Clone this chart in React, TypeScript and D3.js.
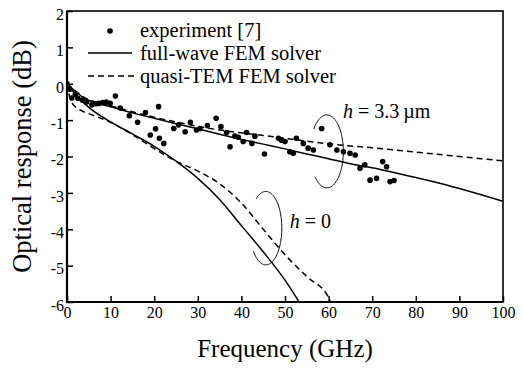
import React, { useEffect, useRef } from 'react';
import * as d3 from 'd3';

// experiment [7] : [GHz, dB]
const experiment: [number, number][] = [
  [0, 0], [0.6, -0.15], [1.1, -0.39], [1.9, -0.3], [2.5, -0.4], [3.5, -0.45],
  [4.5, -0.5], [5.7, -0.58], [6.5, -0.55], [7.3, -0.54], [8.2, -0.52], [9.0, -0.5],
  [9.9, -0.54], [11.1, -0.34], [12.2, -0.67], [14.3, -0.88], [16.2, -1.06], [18.0, -0.79],
  [19.1, -1.41], [20.3, -1.24], [21.0, -0.63], [21.2, -1.5], [22.2, -1.64], [24.5, -1.23],
  [25.6, -1.13], [27.1, -1.32], [28.3, -1.06], [29.7, -1.27], [30.5, -1.23], [32.2, -1.15],
  [34.2, -0.95], [35.3, -1.18], [36.6, -1.34], [37.4, -1.73], [38.5, -1.44], [39.3, -1.47],
  [40.4, -1.59], [41.2, -1.34], [42.4, -1.64], [43.1, -1.44], [45.3, -1.93], [48.5, -1.5],
  [49.2, -1.55], [50.0, -1.59], [51.1, -1.87], [51.9, -1.91], [52.6, -1.5], [54.2, -1.64],
  [55.3, -1.77], [56.5, -1.82], [58.4, -1.23], [60.3, -1.68], [61.9, -1.82], [63.4, -1.87],
  [64.9, -1.91], [66.1, -1.96], [67.2, -2.32], [68.3, -2.23], [69.5, -2.65], [71.0, -2.6],
  [72.4, -2.14], [73.3, -2.28], [74.1, -2.69], [75.0, -2.66],
];

// full-wave FEM, h = 3.3 um
const fullWaveH33: [number, number][] = [
  [0, 0], [2, -0.22], [4, -0.4], [6, -0.5], [8, -0.57], [10, -0.63], [15, -0.8],
  [20, -0.95], [25, -1.1], [30, -1.24], [35, -1.39], [40, -1.53], [45, -1.66],
  [50, -1.79], [55, -1.93], [60, -2.06], [65, -2.2], [70, -2.31], [75, -2.44],
  [80, -2.58], [85, -2.72], [90, -2.88], [95, -3.05], [100, -3.23],
];

// quasi-TEM FEM, h = 3.3 um
const quasiTemH33: [number, number][] = [
  [0, 0], [2, -0.2], [4, -0.38], [6, -0.48], [8, -0.55], [10, -0.61], [15, -0.77],
  [20, -0.92], [25, -1.05], [30, -1.17], [35, -1.27], [40, -1.35], [45, -1.42],
  [50, -1.5], [55, -1.58], [60, -1.65], [65, -1.71], [70, -1.76], [75, -1.82],
  [80, -1.88], [85, -1.94], [90, -2.0], [95, -2.06], [100, -2.12],
];

// full-wave FEM, h = 0
const fullWaveH0: [number, number][] = [
  [0, 0], [2, -0.3], [5, -0.65], [10, -1.05], [15, -1.38], [20, -1.72], [25, -2.13],
  [30, -2.6], [35, -3.18], [40, -3.9], [45, -4.62], [50, -5.4], [53.5, -6.05],
];

// quasi-TEM FEM, h = 0
const quasiTemH0: [number, number][] = [
  [0, 0], [1, -0.5], [3, -0.72], [5, -0.82], [10, -1.06], [15, -1.4], [20, -1.78],
  [25, -2.13], [30, -2.4], [35, -2.75], [40, -3.28], [45, -4.0], [50, -4.7],
  [55, -5.3], [60, -5.88], [60.6, -6.05],
];

const xTicks = [0, 10, 20, 30, 40, 50, 60, 70, 80, 90, 100];
const yTicks = [2, 1, 0, -1, -2, -3, -4, -5, -6];

const legendLabels = ['experiment [7]', 'full-wave FEM solver', 'quasi-TEM FEM solver'];

const W = 523;
const H = 369;
const margin = { top: 11, right: 20, bottom: 67, left: 67 };
const serif = "'Liberation Serif', 'Times New Roman', Times, 'DejaVu Serif', serif";

const App = () => {
  const svgRef = useRef<SVGSVGElement>(null);

  useEffect(() => {
    const svg = d3.select(svgRef.current);
    svg.selectAll('*').remove();

    const x = d3.scaleLinear().domain([0, 100]).range([margin.left, W - margin.right]);
    const y = d3.scaleLinear().domain([-6, 2]).range([H - margin.bottom, margin.top]);

    svg.append('defs').append('clipPath').attr('id', 'plot')
      .append('rect')
      .attr('x', x(0)).attr('y', y(2))
      .attr('width', x(100) - x(0)).attr('height', y(-6) - y(2));

    // axes
    const xAxis = svg.append('g')
      .attr('transform', `translate(0,${y(-6)})`)
      .call(d3.axisBottom(x).tickValues(xTicks).tickSize(-6).tickSizeOuter(0).tickPadding(5)
        .tickFormat((d) => String(d)));
    const yAxis = svg.append('g')
      .attr('transform', `translate(${x(0)},0)`)
      .call(d3.axisLeft(y).tickValues(yTicks).tickSize(-6).tickSizeOuter(0).tickPadding(3)
        .tickFormat((d) => String(d)));
    [xAxis, yAxis].forEach((g) => {
      g.attr('font-family', null).attr('font-size', null);
      g.select('.domain').remove();
      g.selectAll('line').attr('stroke', '#000').attr('stroke-width', 1.5);
      g.selectAll('text').style('font-family', serif).style('font-size', '16px').attr('fill', '#000');
    });
    yAxis.selectAll('text').attr('dy', '0.52em');

    // frame
    svg.append('rect')
      .attr('x', x(0)).attr('y', y(2))
      .attr('width', x(100) - x(0)).attr('height', y(-6) - y(2))
      .attr('fill', 'none').attr('stroke', '#000').attr('stroke-width', 1.6);
    svg.append('path')
      .attr('d', `M${x(0)},${y(2)}V${y(-6)}H${x(100)}`)
      .attr('fill', 'none').attr('stroke', '#000').attr('stroke-width', 2.2);

    // axis titles
    svg.append('text')
      .attr('x', (x(0) + x(100)) / 2).attr('y', 357)
      .attr('text-anchor', 'middle')
      .style('font-family', serif).style('font-size', '25px')
      .text('Frequency (GHz)');
    svg.append('text')
      .attr('transform', `translate(31,${(y(2) + y(-6)) / 2}) rotate(-90)`)
      .attr('text-anchor', 'middle')
      .style('font-family', serif).style('font-size', '26.5px')
      .text('Optical response (dB)');

    // curves
    const line = d3.line<[number, number]>()
      .x((d) => x(d[0])).y((d) => y(d[1]))
      .curve(d3.curveMonotoneX);
    const plot = svg.append('g').attr('clip-path', 'url(#plot)');
    const curves: { data: [number, number][]; dash: string | null }[] = [
      { data: fullWaveH33, dash: null },
      { data: quasiTemH33, dash: '6,4' },
      { data: fullWaveH0, dash: null },
      { data: quasiTemH0, dash: '6,4' },
    ];
    curves.forEach((c) => {
      plot.append('path')
        .datum(c.data)
        .attr('d', line)
        .attr('fill', 'none')
        .attr('stroke', '#000')
        .attr('stroke-width', 1.5)
        .attr('stroke-dasharray', c.dash);
    });

    plot.selectAll('circle.exp')
      .data(experiment)
      .enter()
      .append('circle')
      .attr('class', 'exp')
      .attr('cx', (d) => x(d[0]))
      .attr('cy', (d) => y(d[1]))
      .attr('r', 2.8)
      .attr('fill', '#000');

    // annotation ellipses (open on the left)
    const arc = (cf: number, cdb: number, rx: number, ry: number, a0: number, a1: number) => {
      const cx = x(cf);
      const cy = y(cdb);
      const pts = d3.range(a0, a1 + 0.5, 2).map((a) => {
        const t = (a * Math.PI) / 180;
        return [cx + rx * Math.cos(t), cy + ry * Math.sin(t)] as [number, number];
      });
      svg.append('path')
        .attr('d', d3.line()(pts))
        .attr('fill', 'none').attr('stroke', '#000').attr('stroke-width', 1);
    };
    arc(59.6, -1.86, 16.5, 36.5, -142, 136);
    arc(45.6, -3.97, 16, 36.7, -127, 142);

    const hLabel = (f: number, db: number, rest: string) => {
      const t = svg.append('text')
        .attr('x', x(f)).attr('y', y(db))
        .style('font-family', serif).style('font-size', '20px');
      t.append('tspan').attr('font-style', 'italic').text('h');
      t.append('tspan').text(rest);
    };
    hLabel(63.3, -0.94, ' = 3.3\u2009\u00b5m');
    hLabel(51.1, -3.97, ' = 0');

    // legend
    const lg = svg.append('g');
    lg.append('circle').attr('cx', 110).attr('cy', 31).attr('r', 2.8).attr('fill', '#000');
    lg.append('line').attr('x1', 88).attr('x2', 132).attr('y1', 53).attr('y2', 53)
      .attr('stroke', '#000').attr('stroke-width', 1.5);
    lg.append('line').attr('x1', 88).attr('x2', 134).attr('y1', 76).attr('y2', 76)
      .attr('stroke', '#000').attr('stroke-width', 1.5).attr('stroke-dasharray', '6,4');
    legendLabels.forEach((l, i) => {
      lg.append('text').attr('x', 140).attr('y', 37 + i * 23)
        .style('font-family', serif).style('font-size', '20.5px')
        .text(l);
    });
  }, []);

  return (
    <svg
      ref={svgRef}
      width={W}
      height={H}
      style={{ position: 'absolute', left: 0, top: 0, background: '#fff' }}
    ></svg>
  );
};

export default App;
